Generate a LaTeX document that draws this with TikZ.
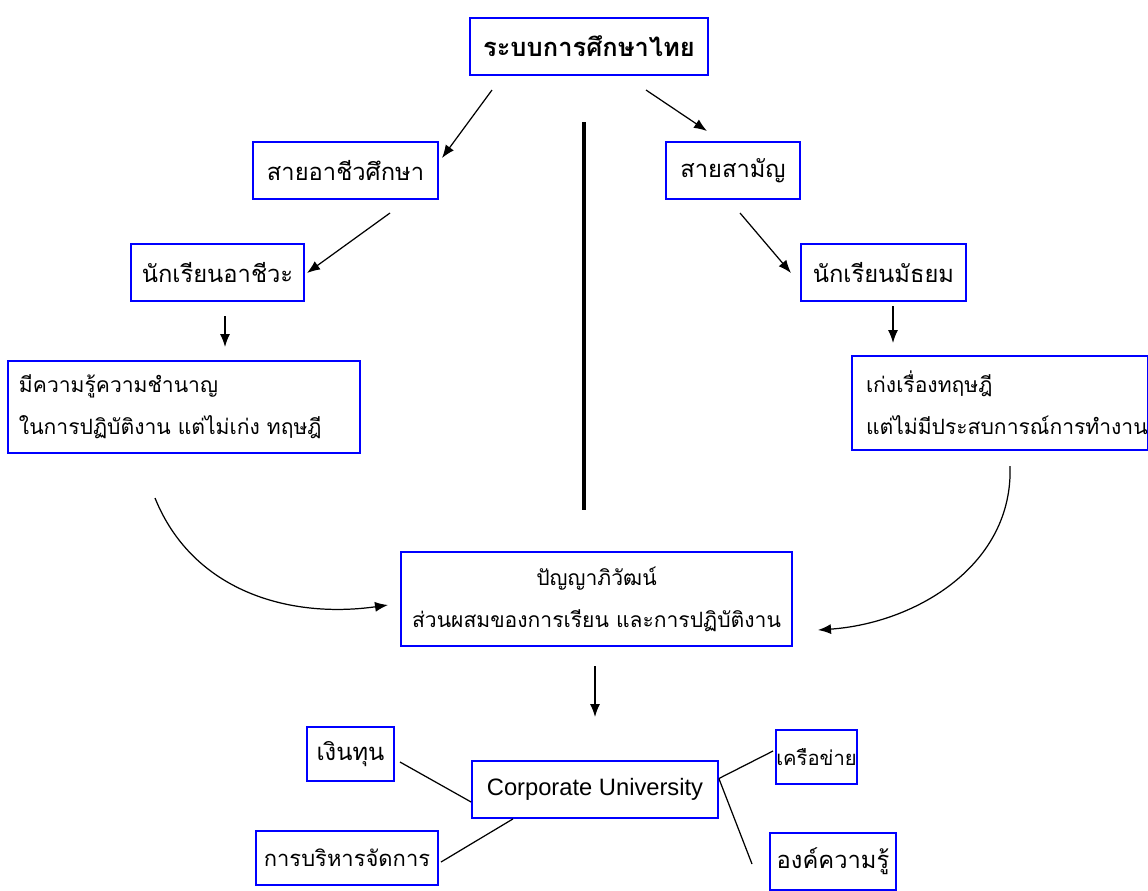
\documentclass[tikz,border=0pt]{standalone}
\usepackage{fontspec}
\setmainfont[Script=Thai]{Loma}
\newfontfamily\latinfont{Liberation Sans}
\usetikzlibrary{arrows.meta}

\begin{document}
\begin{tikzpicture}[
    box/.style={draw=blue, line width=1pt, inner sep=0pt, align=center,
      font=\fontsize{13.5}{24}\selectfont},
    longbox/.style={box, font=\fontsize{12}{24}\selectfont},
    smallbox/.style={box, font=\fontsize{12.5}{24}\selectfont},
    arr/.style={-{Latex[length=2.6mm,width=2mm]}, line width=0.7pt},
    link/.style={line width=0.7pt}]
  \useasboundingbox (0,0) rectangle (22.96,-17.8);
  % top of the tree
  \node[box, minimum width=4.76cm, minimum height=1.14cm, font=\fontsize{14.5}{24}\selectfont\bfseries]
    (system) at (11.78,-0.93) {ระบบการศึกษาไทย};
  \node[box, minimum width=3.7cm, minimum height=1.14cm] (voc) at (6.91,-3.41) {สายอาชีวศึกษา};
  \node[box, minimum width=2.68cm, minimum height=1.14cm] (gen) at (14.66,-3.41) {สายสามัญ};
  \node[box, minimum width=3.46cm, minimum height=1.14cm] (vocstu) at (4.35,-5.45) {นักเรียนอาชีวะ};
  \node[box, minimum width=3.3cm, minimum height=1.14cm] (genstu) at (17.67,-5.45) {นักเรียนมัธยม};
  \node[longbox, align=left, text width=6.6cm, inner xsep=0.22cm, minimum height=1.84cm]
    (vocskill) at (3.68,-8.14) {มีความรู้ความชำนาญ\\ในการปฏิบัติงาน แต่ไม่เก่ง ทฤษฎี};
  \node[longbox, align=left, text width=5.36cm, inner xsep=0.28cm, minimum height=1.88cm]
    (gentheory) at (20.0,-8.06) {เก่งเรื่องทฤษฎี\\แต่ไม่มีประสบการณ์การทำงาน};
  % middle
  \node[longbox, minimum width=7.82cm, minimum height=1.88cm] (blend) at (11.93,-11.98)
    {ปัญญาภิวัฒน์\\ส่วนผสมของการเรียน และการปฏิบัติงาน};
  \node[box, minimum width=4.92cm, minimum height=1.14cm, font=\latinfont\fontsize{13.5}{16}\selectfont]
    (corp) at (11.9,-15.79) {Corporate University};
  % around the corporate university
  \node[box, minimum width=1.74cm, minimum height=1.08cm] (fund) at (7.01,-15.08) {เงินทุน};
  \node[smallbox, minimum width=3.64cm, minimum height=1.08cm] (mgmt) at (6.94,-17.16) {การบริหารจัดการ};
  \node[smallbox, font=\fontsize{11.5}{24}\selectfont, minimum width=1.62cm, minimum height=1.08cm]
    (net) at (16.33,-15.14) {เครือข่าย};
  \node[box, minimum width=2.52cm, minimum height=1.14cm] (know) at (16.66,-17.23) {องค์ความรู้};

  % free ends of the connectors
  \coordinate (s1) at (9.84,-1.8);   \coordinate (e1) at (8.84,-3.16);
  \coordinate (s2) at (12.92,-1.8);  \coordinate (e2) at (14.14,-2.62);
  \coordinate (s3) at (7.8,-4.26);   \coordinate (e3) at (6.14,-5.46);
  \coordinate (s4) at (14.8,-4.26);  \coordinate (e4) at (15.82,-5.46);
  \coordinate (s5) at (4.5,-6.32);   \coordinate (e5) at (4.5,-6.94);
  \coordinate (s6) at (17.86,-6.12); \coordinate (e6) at (17.86,-6.86);
  \coordinate (s7) at (3.1,-9.96);   \coordinate (e7) at (7.76,-12.1);
  \coordinate (s8) at (20.2,-9.32);  \coordinate (e8) at (16.36,-12.6);
  \coordinate (s9) at (11.9,-13.32); \coordinate (e9) at (11.9,-14.34);

  \draw[arr] (s1) -- (e1);
  \draw[arr] (s2) -- (e2);
  \draw[arr] (s3) -- (e3);
  \draw[arr] (s4) -- (e4);
  \draw[arr] (s5) -- (e5);
  \draw[arr] (s6) -- (e6);
  \draw[arr] (s7) to[out=-68, in=188] (e7);
  \draw[arr] (s8) to[out=-88, in=4] (e8);
  \draw[arr] (s9) -- (e9);

  % divider
  \draw[line width=2.4pt] (11.68,-2.44) -- (11.68,-10.2);

  % links
  \coordinate (f1) at (8.0,-15.24);  \coordinate (m1) at (8.82,-17.24);
  \coordinate (n1) at (15.46,-15.02); \coordinate (k1) at (15.04,-17.28);
  \draw[link] (f1) -- ([yshift=-0.25cm]corp.west);
  \draw[link] (m1) -- ([xshift=-1.64cm]corp.south);
  \draw[link] ([yshift=0.22cm]corp.east) -- (n1);
  \draw[link] ([yshift=0.22cm]corp.east) -- (k1);
\end{tikzpicture}
\end{document}
